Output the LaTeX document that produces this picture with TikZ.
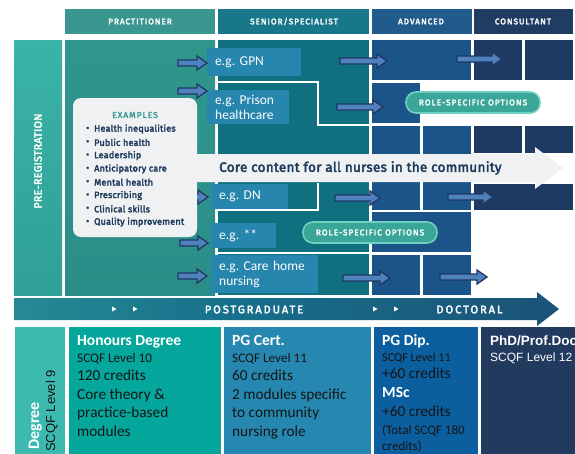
\documentclass[tikz,border=0pt]{standalone}
\usepackage{fontspec}
\setmainfont{Carlito}
% heavy sans for the chart labels, at several letter spacings
\newfontfamily\hfA[FakeBold=3,LetterSpace=2]{Fira Sans}
\newfontfamily\hfC[FakeBold=3,LetterSpace=12]{Fira Sans}
\newfontfamily\hfD[FakeBold=3,LetterSpace=18]{Fira Sans}
\newfontfamily\arialf{Liberation Sans}

% palette
\definecolor{practhead}{HTML}{3A9790}
\definecolor{practtop}{HTML}{30968C}
\definecolor{practbot}{HTML}{2B8D87}
\definecolor{seniorhead}{HTML}{18778A}
\definecolor{seniorcol}{HTML}{10707F}
\definecolor{advhead}{HTML}{215B8B}
\definecolor{advcol}{HTML}{1B5488}
\definecolor{conshead}{HTML}{213C63}
\definecolor{conscol}{HTML}{1F3A62}
\definecolor{pretop}{HTML}{3BB3A8}
\definecolor{prebot}{HTML}{2FA096}
\definecolor{egblue}{HTML}{2786AE}
\definecolor{bandgrey}{HTML}{EFF1F3}
\definecolor{navytext}{HTML}{1E3A5C}
\definecolor{rolefill}{HTML}{3AA698}
\definecolor{roleedge}{HTML}{6FCFC1}
\definecolor{arrfill}{HTML}{4F81BD}
\definecolor{arredge}{HTML}{1F3864}
\definecolor{degcol}{HTML}{3CBAB0}
\definecolor{honcol}{HTML}{05A69C}
\definecolor{certcol}{HTML}{2688B1}
\definecolor{dipcol}{HTML}{0B5F9E}
\definecolor{phdcol}{HTML}{233A5F}
\definecolor{boxgrey}{HTML}{F0F1F2}
\definecolor{exhead}{HTML}{3A9A91}
\definecolor{darktext}{HTML}{151515}
\definecolor{pgA}{HTML}{3AAA9F}
\definecolor{pgB}{HTML}{17708B}
\definecolor{pgC}{HTML}{1F3868}

\pgfdeclarehorizontalshading{pgshade}{100bp}{color(0bp)=(pgA); color(45bp)=(pgB); color(100bp)=(pgC)}

% block arrow: start x, end x, centre y
\newcommand\blockarrow[3]{%
  \draw[blockarr] (#1,#3-3) -- (#2-10,#3-3) -- (#2-10,#3-7) -- (#2,#3)
    -- (#2-10,#3+7) -- (#2-10,#3+3) -- (#1,#3+3) -- cycle;}

\begin{document}
\frenchspacing
\begin{tikzpicture}[x=1pt,y=-1pt,
  gridline/.style={white,line width=1.5pt},
  blockarr/.style={fill=arrfill,draw=arredge,line width=1.3pt},
  hdr/.style={text=white,font=\hfC\fontsize{8.2}{9}\selectfont,inner sep=0pt},
  egbox/.style={fill=egblue,text=white,font=\fontsize{13.5}{15}\selectfont,
    align=left,anchor=north west,inner xsep=8pt,inner ysep=0pt},
  rolebox/.style={fill=rolefill,draw=roleedge,line width=1.6pt,rounded corners=10pt,
    minimum width=134pt,minimum height=21pt,inner sep=0pt,text=white,
    font=\hfC\fontsize{8.3}{9}\selectfont},
  item/.style={anchor=west,inner sep=0pt,text=navytext,font=\hfA\fontsize{9.1}{10}\selectfont},
  bt/.style={anchor=base west,inner sep=0pt,text=darktext},
  bhead/.style={bt,text=white,font=\bfseries\fontsize{15.5}{17}\selectfont},
  bbig/.style={bt,font=\fontsize{15.3}{17}\selectfont},
  bsmall/.style={bt,font=\fontsize{13}{15}\selectfont},
  bandlabel/.style={text=white,font=\hfD\fontsize{11}{12}\selectfont,inner sep=0pt}
]
\useasboundingbox (0,0) rectangle (575,453);
\clip (0,0) rectangle (575,453);
\fill[white] (0,0) rectangle (575,453);

% column headers
\fill[practhead] (65,9) rectangle (215,34);
\fill[seniorhead] (218,9) rectangle (369,34);
\fill[advhead] (372,9) rectangle (472,34);
\fill[conshead] (474,9) rectangle (573,34);
\node[hdr] (hprac) at (140,21.5) {PRACTITIONER};
\node[hdr] (hsen) at (294,21.5) {SENIOR/SPECIALIST};
\node[hdr] (hadv) at (421,21.5) {ADVANCED};
\node[hdr] (hcons) at (523,21.5) {CONSULTANT};

% pre-registration bar
\shade[top color=pretop,bottom color=prebot] (14,40) rectangle (62,295);
\node[rotate=90,text=white,font=\hfA\fontsize{10.8}{12}\selectfont,inner sep=0pt]
  (prereg) at (38,161) {PRE-REGISTRATION};

% practitioner and senior columns
\shade[top color=practtop,bottom color=practbot] (65,40) rectangle (215,295);
\fill[seniorcol] (218,40) rectangle (369,295);
\draw[gridline] (216,82) -- (318,82) -- (318,125) -- (370,125);
\draw[gridline] (216,210) -- (318,210) -- (318,183);
\draw[gridline] (216,253) -- (370,253);

% advanced column cells
\fill[advcol] (372,40) rectangle (471,80);
\fill[advcol] (372,83) rectangle (420,123);
\fill[advcol] (372,126) rectangle (420,210);
\fill[advcol] (423,126) rectangle (471,210);
\fill[advcol] (372,212) rectangle (471,252);
\fill[advcol] (372,255) rectangle (420,295);
\fill[advcol] (423,255) rectangle (471,295);

% consultant column cells
\fill[conscol] (474,40) rectangle (522,80);
\fill[conscol] (525,40) rectangle (573,80);
\fill[conscol] (474,126) rectangle (522,153);
\fill[conscol] (525,126) rectangle (573,153);
\fill[conscol] (474,184) rectangle (573,210);

% core content arrow
\fill[bandgrey] (190,154) -- (535,154) -- (535,147) -- (563,168) -- (535,189)
  -- (535,182) -- (190,182) -- cycle;
\node[anchor=west,inner sep=0pt,text=navytext,font=\hfA\fontsize{13.5}{14}\selectfont]
  (core) at (219,168) {Core content for all nurses in the community};

% example roles
\node[egbox,text width=78pt,minimum height=28pt] (gpn) at (207,48) {e.g. GPN};
\node[egbox,text width=66pt,minimum height=34pt] (prison) at (207,90) {e.g. Prison\\healthcare};
\node[egbox,text width=61pt,minimum height=25pt] (dn) at (211,184) {e.g. DN};
\node[egbox,text width=49pt,minimum height=25pt] (other) at (211,223) {e.g. **};
\node[egbox,text width=91pt,minimum height=38pt] (care) at (211,255) {e.g. Care home\\nursing};

% progression arrows
\blockarrow{178}{207}{63}
\blockarrow{340}{387}{61}
\blockarrow{457}{502}{59}
\blockarrow{178}{207}{91}
\blockarrow{337}{383}{107}
\blockarrow{178}{208}{197}
\blockarrow{335}{380}{198}
\blockarrow{448}{493}{197}
\blockarrow{180}{208}{243}
\blockarrow{178}{207}{276}
\blockarrow{343}{390}{278}
\blockarrow{440}{487}{277}

% examples panel
\fill[boxgrey,rounded corners=8pt] (73,98) rectangle (197,237);
\node[text=exhead,font=\hfC\fontsize{8.4}{10}\selectfont,inner sep=0pt]
  (exhdr) at (135,115) {EXAMPLES};
\foreach \t [count=\i] in {Health inequalities,Public health,Leadership,Anticipatory care,
    Mental health,Prescribing,Clinical skills,Quality improvement}{
  \node[item] (dot\i) at (86,115.7+13.3*\i) {\textbullet};
  \node[item] (ex\i) at (94,115.7+13.3*\i) {\t};
}

% role-specific options
\node[rolebox] (role1) at (473,102.5) {ROLE-SPECIFIC OPTIONS};
\node[rolebox] (role2) at (370,232.5) {ROLE-SPECIFIC OPTIONS};

% postgraduate / doctoral arrow
\shade[shading=pgshade] (14,298) -- (537,298) -- (537,292) -- (559,309) -- (537,326)
  -- (537,320) -- (14,320) -- cycle;
\foreach \x in {112,133,373,394}{
  \fill[white] (\x,306.5) -- (\x+4.5,309) -- (\x,311.5) -- cycle;
}
\node[bandlabel] (pg) at (254,309.5) {POSTGRADUATE};
\node[bandlabel] (doc) at (469.5,309.5) {DOCTORAL};

% qualification boxes
\fill[degcol] (15,327) rectangle (65,456);
\fill[honcol] (69,327) rectangle (221,456);
\fill[certcol] (224,327) rectangle (371,456);
\fill[dipcol] (374,327) rectangle (478,456);
\fill[phdcol] (481,327) rectangle (578,456);

\node[rotate=90,anchor=base east,inner sep=0pt,text=white,font=\bfseries\fontsize{16}{18}\selectfont]
  (deg) at (39,402) {Degree};
\node[rotate=90,anchor=base east,inner sep=0pt,text=darktext,font=\arialf\fontsize{13}{15}\selectfont]
  (deg9) at (55,370) {SCQF Level 9};

\node[bhead] (hon) at (77,345) {Honours Degree};
\node[bt,font=\fontsize{13.2}{15}\selectfont] (hon1) at (77,362) {SCQF Level 10};
\node[bbig] (hon2) at (77,380) {120 credits};
\node[bbig] (hon3) at (77,399) {Core theory \&};
\node[bbig] (hon4) at (77,417) {practice-based};
\node[bbig] (hon5) at (77,436) {modules};

\node[bhead] (cert) at (232,345) {PG Cert.};
\node[bt,font=\fontsize{13.2}{15}\selectfont] (cert1) at (232,362) {SCQF Level 11};
\node[bbig] (cert2) at (232,380) {60 credits};
\node[bbig] (cert3) at (232,399) {2 modules specific};
\node[bbig] (cert4) at (232,417) {to community};
\node[bbig] (cert5) at (232,436) {nursing role};

\node[bhead] (dip) at (382,345) {PG Dip.};
\node[bt,font=\fontsize{12.1}{14}\selectfont] (dip1) at (382,361) {SCQF Level 11};
\node[bbig] (dip2) at (382,378) {+60 credits};
\node[bhead] (msc) at (382,397) {MSc};
\node[bbig] (dip3) at (382,416) {+60 credits};
\node[bsmall] (dip4) at (382,434) {(Total SCQF 180};
\node[bsmall] (dip5) at (382,450) {credits)};

\node[bt,text=white,font=\arialf\bfseries\fontsize{13.5}{15}\selectfont] (phd) at (490,345) {PhD/Prof.Doc};
\node[bt,text=white,font=\arialf\fontsize{12}{14}\selectfont] (phd1) at (490,361) {SCQF Level 12};
\end{tikzpicture}
\end{document}
